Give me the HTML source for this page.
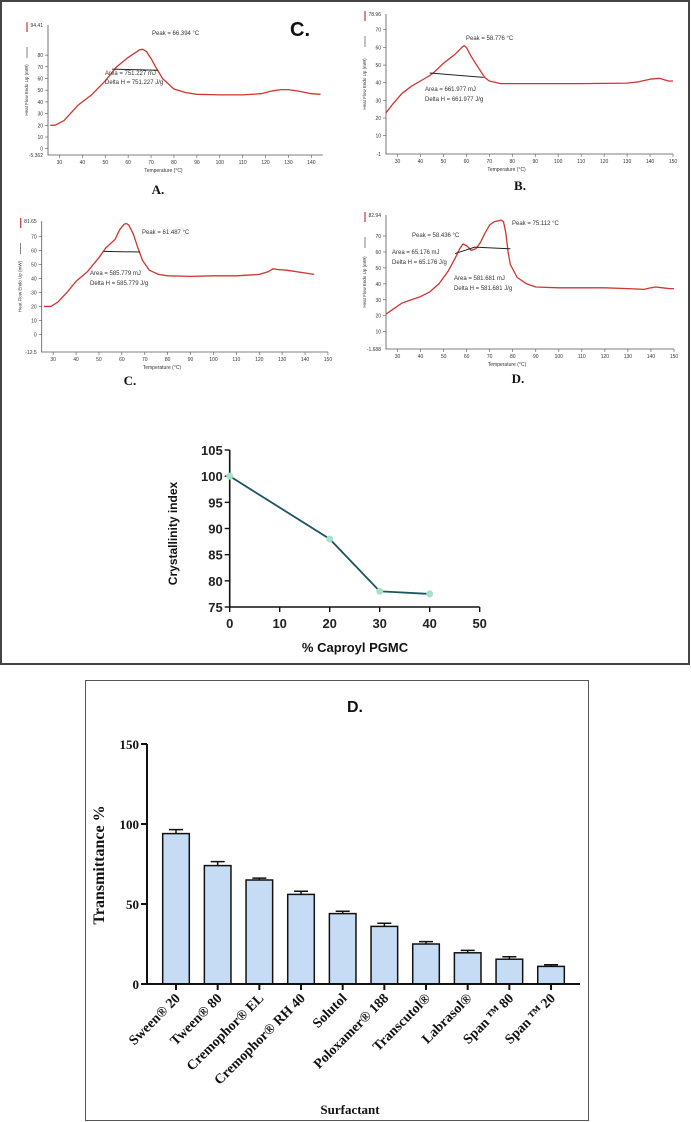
<!DOCTYPE html>
<html><head><meta charset="utf-8"><style>
html,body{margin:0;padding:0;background:#fff;}
svg{display:block;font-family:"Liberation Sans",sans-serif;}
</style></head><body>
<svg id="s" width="691" height="1122" viewBox="0 0 691 1122" xmlns="http://www.w3.org/2000/svg">
<rect x="1" y="1" width="688" height="663" fill="#fff" stroke="#444" stroke-width="2"/>
<rect x="85.5" y="680.5" width="503" height="440" fill="#fff" stroke="#555" stroke-width="1"/>
<g id="g"></g>
</svg>
<script>
// ---- DSC data (temperature °C, heat flow mW) ----
const dscAT=[26,28,32,38,44,50,55,60,65,66.4,68,70,72,75,80,85,90,100,110,118,122,125,127,130,135,140,144];
const dscAV=[20,20,24,37,46,58,70,78,84.5,85,83,77,70,60,51,48,46.5,46,46,47,49,50,50.5,50.5,49,47,46.5];
const dscBT=[25,28,32,36,40,44,46,50,55,58,59,60,62,65,68,70,75,80,90,110,130,135,140,144,148,150];
const dscBV=[23,28,34,38,41,44,46,51,56,60,61,60,55,49,43,41,39.5,39.5,39.5,39.5,39.8,40.5,42,42.5,41,41];
const dscCT=[26,29,32,36,40,45,50,53,57,59,61,62,63,65,67,69,72,76,80,90,100,110,120,124,126,128,132,140,144];
const dscCV=[20,20,23,30,38,45,55,62,68,75,79,79.5,78.5,72,62,53,46,43,42,41.5,42,42,43,45,47,46.5,46,44,43];
const dscDT=[25,28,32,36,40,44,48,52,55,57,58.4,60,62,64,66,68,70,72,75,76,77,78,79,82,86,90,100,120,130,137,140,142,145,148,150];
const dscDV=[21,24,28,30,32,35,40,48,56,62,65,64,61,62,66,72,77,79,80,79,72,60,52,44,40,38,37.5,37.5,37,36.5,37.5,38,37.5,37,37];
// ---- Crystallinity ----
const crystX=[0,20,30,40];
const crystY=[100,88,78,77.5];
const crystYTicks=[75,80,85,90,95,100,105];
const crystXTicks=[0,10,20,30,40,50];
// ---- Transmittance bars ----
const surfactants=["Sween® 20","Tween® 80","Cremophor® EL","Cremophor® RH 40","Solutol","Poloxamer® 188","Transcutol®","Labrasol®","Span \u1D40\u1D39 80","Span \u1D40\u1D39 20"];
const transValues=[94,74,65,56,44,36,25,19.5,15.5,11];
const transErrors=[2.5,2.5,1.2,2,1.5,2,1.5,1.5,1.5,1];
const transTicks=[0,50,100,150];

const NS="http://www.w3.org/2000/svg";
const G=document.getElementById('g');
function el(tag,attrs,parent){const e=document.createElementNS(NS,tag);for(const k in attrs)e.setAttribute(k,attrs[k]);(parent||G).appendChild(e);return e;}
function txt(x,y,s,attrs,parent){const t=el('text',Object.assign({x:x,y:y},attrs||{}),parent);t.textContent=s;return t;}

function dsc(cfg){
  const p=el('g',{});
  
  
  const X=t=>cfg.x0+(t-25)*cfg.kx, Y=v=>cfg.y0-v*cfg.ky;
  const ax=el('path',{d:`M${X(25)} ${cfg.top} V${cfg.axY} H${X(cfg.tmax)}`,stroke:'#555',fill:'none','stroke-width':0.8},p);
  
  
  cfg.yt.forEach(v=>{const yy=Y(v);el('line',{x1:X(25)-3,x2:X(25),y1:yy,y2:yy,stroke:'#555','stroke-width':0.6},p);
    txt(X(25)-5,yy+2,String(v),{'font-size':5,'text-anchor':'end',fill:'#333'},p);});
  txt(X(25)-5,cfg.top+2,cfg.topLab,{'font-size':5,'text-anchor':'end',fill:'#333'},p);
  txt(X(25)-5,cfg.axY+2,cfg.botLab,{'font-size':5,'text-anchor':'end',fill:'#333'},p);
  cfg.xt.forEach(t=>{const xx=X(t);el('line',{x1:xx,x2:xx,y1:cfg.axY,y2:cfg.axY+3,stroke:'#555','stroke-width':0.6},p);
    txt(xx,cfg.axY+9,String(t),{'font-size':5,'text-anchor':'middle',fill:'#333'},p);});
  txt(X(25)+(X(cfg.tmax)-X(25))*0.42,cfg.axY+17,'Temperature (°C)',{'font-size':5,'text-anchor':'middle',fill:'#333'},p);
  const yl=txt(0,0,'Heat Flow Endo Up (mW)',{'font-size':4.5,'text-anchor':'middle',fill:'#333',transform:`translate(${X(25)-20},${(cfg.top+cfg.axY)/2}) rotate(-90)`},p);
  
  
  el('line',{x1:X(25)-21,x2:X(25)-21,y1:cfg.top-3,y2:cfg.top+7,stroke:'#c33','stroke-width':1.2},p);
  el('line',{x1:X(25)-21,x2:X(25)-21,y1:cfg.top+22,y2:cfg.top+33,stroke:'#333','stroke-width':0.6},p);
  let d='';cfg.T.forEach((t,i)=>{d+=(i?'L':'M')+X(t).toFixed(1)+' '+Y(cfg.V[i]).toFixed(1);});
  const c=el('path',{d:d,stroke:'#d0352f',fill:'none','stroke-width':1.3,'stroke-linejoin':'round'},p);
  
  
  let bd='';cfg.base.forEach((b,i)=>{bd+=(i?'L':'M')+X(b[0])+' '+Y(b[1]);});
  const bl=el('path',{d:bd,stroke:'#222',fill:'none','stroke-width':1},p);
  
  
  cfg.texts.forEach(tt=>txt(tt[0],tt[1],tt[2],{'font-size':6,fill:'#333'},p));
}
dsc({name:'dsc-panel-a',x0:48,kx:2.29,y0:148.7,ky:1.17,top:25,axY:155,tmax:145,topLab:'94.41',botLab:'-5.362',
  yt:[0,10,20,30,40,50,60,70,80],xt:[30,40,50,60,70,80,90,100,110,120,130,140],T:dscAT,V:dscAV,
  base:[[53,68],[73,67]],texts:[[152,35,'Peak = 66.394 °C'],[105,75,'Area = 751.227 mJ'],[105,84,'Delta H = 751.227 J/g']]});
dsc({name:'dsc-panel-b',x0:386,kx:2.296,y0:153.4,ky:1.767,top:14,axY:154,tmax:150,topLab:'78.96',botLab:'-1',
  yt:[10,20,30,40,50,60,70],xt:[30,40,50,60,70,80,90,100,110,120,130,140,150],T:dscBT,V:dscBV,
  base:[[44,45.5],[67.5,43]],texts:[[466,40,'Peak = 58.776 °C'],[425,91,'Area = 661.977 mJ'],[425,101,'Delta H = 661.977 J/g']]});
dsc({name:'dsc-panel-c',x0:41.7,kx:2.29,y0:334.3,ky:1.394,top:221,axY:352,tmax:150,topLab:'81.65',botLab:'-12.5',
  yt:[0,10,20,30,40,50,60,70],xt:[30,40,50,60,70,80,90,100,110,120,130,140,150],T:dscCT,V:dscCV,
  base:[[52,59.5],[68,59]],texts:[[142,234,'Peak = 61.487 °C'],[90,275,'Area = 585.779 mJ'],[90,285,'Delta H = 585.779 J/g']]});
dsc({name:'dsc-panel-d',x0:386,kx:2.304,y0:347.6,ky:1.594,top:215,axY:349,tmax:150,topLab:'82.94',botLab:'-1.688',
  yt:[10,20,30,40,50,60,70],xt:[30,40,50,60,70,80,90,100,110,120,130,140,150],T:dscDT,V:dscDV,
  base:[[55,59],[63.5,63],[79,62]],texts:[[412,237,'Peak = 58.436 °C'],[512,225,'Peak = 75.112 °C'],[392,254,'Area = 65.176 mJ'],[392,264,'Delta H = 65.176 J/g'],[454,280,'Area = 581.681 mJ'],[454,290,'Delta H = 581.681 J/g']]});

[[300,36,'C.',20,'"Liberation Sans",sans-serif','panel-label-c-top'],[158,194,'A.',13,'"Liberation Serif",serif','panel-label-a'],
 [520,190,'B.',13,'"Liberation Serif",serif','panel-label-b'],[130,385,'C.',13,'"Liberation Serif",serif','panel-label-c'],
 [518,383,'D.',13,'"Liberation Serif",serif','panel-label-d']].forEach(a=>{
  const t=txt(a[0],a[1],a[2],{'font-size':a[3],'font-weight':'bold','font-family':a[4],'text-anchor':'middle',fill:'#111'});
  
  
});

// ---- Crystallinity chart ----
(function(){
  const X=v=>229.7+v*5.0, Y=v=>607-(v-75)*5.233;
  const p=el('g',{});
  
  
  el('path',{d:`M${X(0)} ${Y(105)} V${Y(75)} H${X(50)}`,stroke:'#111','stroke-width':1.6,fill:'none'},p);
  crystYTicks.forEach(v=>{el('line',{x1:X(0)-5,x2:X(0),y1:Y(v),y2:Y(v),stroke:'#111','stroke-width':1.4},p);
    txt(X(0)-7,Y(v)+5,String(v),{'font-size':13,'font-weight':'bold','text-anchor':'end',fill:'#222'},p);});
  crystXTicks.forEach(v=>{el('line',{x1:X(v),x2:X(v),y1:Y(75),y2:Y(75)+5,stroke:'#111','stroke-width':1.4},p);
    txt(X(v),Y(75)+21,String(v),{'font-size':13,'font-weight':'bold','text-anchor':'middle',fill:'#222'},p);});
  const yl=txt(0,0,'Crystallinity index',{'font-size':12,'font-weight':'bold','text-anchor':'middle',fill:'#111',transform:`translate(177,${(Y(75)+Y(105))/2+5}) rotate(-90)`},p);
  
  
  const xl=txt(355,652,'% Caproyl PGMC',{'font-size':13,'font-weight':'bold','text-anchor':'middle',fill:'#111'},p);
  
  
  const ln=el('polyline',{points:crystX.map((x,i)=>X(x)+','+Y(crystY[i])).join(' '),fill:'none',stroke:'#1e5460','stroke-width':1.8},p);
  
  
  crystX.forEach((x,i)=>{const c=el('circle',{cx:X(x),cy:Y(crystY[i]),r:3.5,fill:'#a5e0cc'},p);
    
    });
})();

// ---- Transmittance bar chart ----
(function(){
  const Y=v=>984-v*1.6, X=i=>176+i*41.67;
  const p=el('g',{});
  
  
  const t=txt(355,712,'D.',{'font-size':16,'font-weight':'bold','text-anchor':'middle',fill:'#111'},p);
  
  
  transValues.forEach((v,i)=>{
    const b=el('rect',{x:X(i)-13.3,y:Y(v),width:26.6,height:984-Y(v),fill:'#c6dcf5',stroke:'#111','stroke-width':1.5},p);
    
    
    const e=el('path',{d:`M${X(i)} ${Y(v)} V${Y(v+transErrors[i])} M${X(i)-7} ${Y(v+transErrors[i])} H${X(i)+7}`,stroke:'#111','stroke-width':1.5,fill:'none'},p);
    
    
    el('line',{x1:X(i),x2:X(i),y1:984,y2:990,stroke:'#111','stroke-width':2},p);
    const l=txt(0,0,surfactants[i],{'font-size':14,'font-weight':'bold','font-family':'"Liberation Serif",serif','text-anchor':'end',fill:'#111',transform:`translate(${X(i)+5},${999}) rotate(-45)`},p);
    
    
  });
  el('path',{d:`M147 744 V984 H580`,stroke:'#111','stroke-width':2,fill:'none'},p);
  transTicks.forEach(v=>{el('line',{x1:141,x2:147,y1:Y(v),y2:Y(v),stroke:'#111','stroke-width':2},p);
    txt(139,Y(v)+5,String(v),{'font-size':13,'font-weight':'bold','font-family':'"Liberation Serif",serif','text-anchor':'end',fill:'#111'},p);});
  const yl=txt(0,0,'Transmittance %',{'font-size':16,'font-weight':'bold','font-family':'"Liberation Serif",serif','text-anchor':'middle',fill:'#111',transform:`translate(104,865) rotate(-90)`},p);
  
  
  const xl=txt(350,1114,'Surfactant',{'font-size':13,'font-weight':'bold','font-family':'"Liberation Serif",serif','text-anchor':'middle',fill:'#111'},p);
  
  
})();
</script>
</body></html>
